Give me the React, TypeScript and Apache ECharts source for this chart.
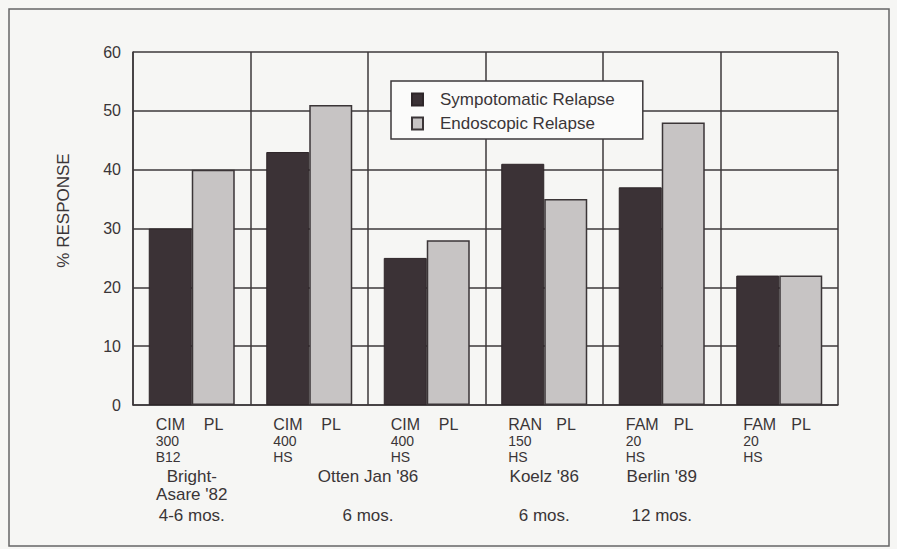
import { useEffect, useRef } from 'react';
import * as echarts from 'echarts';

// ---- data ----
const drugs = ['CIM', 'CIM', 'CIM', 'RAN', 'FAM', 'FAM'];
const placeboLabel = 'PL';
const doses = ['300', '400', '400', '150', '20', '20'];
const regimens = ['B12', 'HS', 'HS', 'HS', 'HS', 'HS'];
const symptomatic = [30, 43, 25, 41, 37, 22];
const endoscopic = [40, 51, 28, 35, 48, 22];
const studyNames = ["Bright-\nAsare '82", "Otten Jan '86", "Koelz '86", "Berlin '89"];
const studyFirst = [0, 1, 3, 4];
const studyLast = [0, 2, 3, 4];
const durations = ['4-6 mos.', '6 mos.', '6 mos.', '12 mos.'];
const seriesNames = ['Sympotomatic Relapse', 'Endoscopic Relapse'];
const yAxisName = '% RESPONSE';
const yMin = 0;
const yMax = 60;
const yStep = 10;

const categories = drugs.map((d, i) => `${i + 1}: ${d} ${doses[i]} ${regimens[i]}`);

const FONT = "'Liberation Sans', Arial, Helvetica, sans-serif";
const INK = '#3a3537';
const LINE = '#3d393b';

export default function App() {
  const ref = useRef<HTMLDivElement>(null);

  useEffect(() => {
    document.body.style.margin = '0';
    const chart = echarts.init(ref.current!, undefined, { renderer: 'svg' });
    chart.setOption({
      animation: false,
      backgroundColor: '#f6f6f4',
      grid: { left: 133, top: 52, right: 59, bottom: 144 },
      legend: {
        left: 391,
        top: 81,
        orient: 'vertical',
        icon: 'rect',
        itemWidth: 11,
        itemHeight: 12,
        itemGap: 7,
        backgroundColor: '#fbfbfa',
        borderColor: LINE,
        borderWidth: 1.5,
        padding: [10, 28, 7, 20],
        textStyle: { fontSize: 17, color: INK, fontFamily: FONT, padding: [0, 0, 0, 12] },
        data: seriesNames,
      },
      xAxis: {
        type: 'category',
        data: categories,
        boundaryGap: true,
        axisLine: { show: true, lineStyle: { color: LINE, width: 1.5 } },
        axisTick: { show: false },
        axisLabel: { show: false },
        splitLine: { show: true, lineStyle: { color: LINE, width: 1.5 } },
      },
      yAxis: {
        type: 'value',
        min: yMin,
        max: yMax,
        interval: yStep,
        name: yAxisName,
        nameLocation: 'middle',
        nameRotate: 90,
        nameGap: 61,
        nameTextStyle: { fontSize: 17, color: INK, fontFamily: FONT, padding: [0, 0, 0, 36] },
        axisLine: { show: true, lineStyle: { color: LINE, width: 1.5 } },
        axisTick: { show: false },
        axisLabel: { fontSize: 16, color: INK, fontFamily: FONT, margin: 12 },
        splitLine: { show: true, lineStyle: { color: LINE, width: 1.5 } },
      },
      series: [
        {
          name: seriesNames[0],
          type: 'bar',
          data: symptomatic,
          barWidth: 43,
          barGap: '0%',
          itemStyle: { color: '#3b3236', borderColor: '#2e2629', borderWidth: 1 },
        },
        {
          name: seriesNames[1],
          type: 'bar',
          data: endoscopic,
          barWidth: 43,
          barGap: '0%',
          itemStyle: { color: '#c7c4c4', borderColor: '#3b3537', borderWidth: 1.5 },
        },
      ],
    });

    const cx = (i: number) => chart.convertToPixel({ xAxisIndex: 0 }, categories[i]) as number;
    const txt = (id: string, x: number, y: number, text: string, size: number, align: string, lineHeight?: number) => ({
      id,
      type: 'text',
      x,
      y,
      style: {
        text,
        fill: INK,
        font: `${size}px ${FONT}`,
        textAlign: align,
        textVerticalAlign: 'top',
        lineHeight: lineHeight ?? size,
      },
      silent: true,
    });

    const elements: any[] = [];
    elements.push({
      id: 'frame',
      type: 'rect',
      shape: { x: 9, y: 9, width: 880, height: 537 },
      style: { fill: 'none', stroke: '#666', lineWidth: 1.5 },
      silent: true,
    });
    drugs.forEach((d, i) => {
      const c = cx(i);
      elements.push(txt(`drug${i}`, c - 36, 416, d, 16, 'left'));
      elements.push(txt(`pl${i}`, c + 12, 416, placeboLabel, 16, 'left'));
      elements.push(txt(`dose${i}`, c - 36, 434, doses[i], 14, 'left'));
      elements.push(txt(`reg${i}`, c - 36, 450, regimens[i], 14, 'left'));
    });
    studyNames.forEach((s, k) => {
      const c = (cx(studyFirst[k]) + cx(studyLast[k])) / 2;
      elements.push(txt(`study${k}`, c, 467, s, 17, 'center', 18));
      elements.push(txt(`dur${k}`, c, 507, durations[k], 17, 'center'));
    });
    chart.setOption({ graphic: { elements } });

    return () => chart.dispose();
  }, []);

  return <div ref={ref} style={{ width: 897, height: 549, position: 'absolute', left: 0, top: 0 }} />;
}
